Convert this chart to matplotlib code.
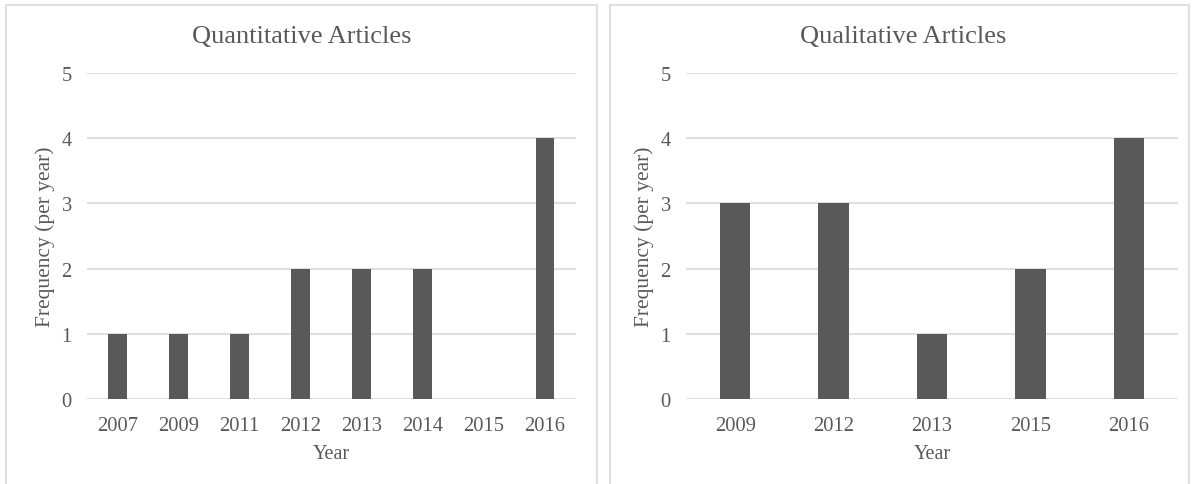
import matplotlib
matplotlib.use("Agg")
import matplotlib.pyplot as plt
from matplotlib.patches import Rectangle

quant_years = ["2007", "2009", "2011", "2012", "2013", "2014", "2015", "2016"]
quant_counts = [1, 1, 1, 2, 2, 2, 0, 4]

qual_years = ["2009", "2012", "2013", "2015", "2016"]
qual_counts = [3, 3, 1, 2, 4]

plt.rcParams["font.family"] = ["Liberation Serif", "DejaVu Serif"]

W, H = 1193, 485
fig = plt.figure(figsize=(W / 100, H / 100), dpi=100)

bar_col = "#595959"
txt_col = "#595959"
grid_col = "#d9d9d9"

# panel frames
for x0, x1 in [(6.5, 596.5), (609.5, 1188.5)]:
    fig.patches.append(Rectangle((x0 / W, -0.05), (x1 - x0) / W, 1.05 - 5.5 / H,
                                 transform=fig.transFigure, fill=False,
                                 edgecolor=grid_col, linewidth=1.2))


def draw(ax, years, counts, title, title_x):
    pos = range(len(years))
    ax.bar(pos, counts, width=0.31, color=bar_col, zorder=3)
    ax.set_xlim(-0.5, len(years) - 0.5)
    ax.set_ylim(0, 5)
    ax.set_yticks(range(6))
    ax.set_xticks(list(pos))
    ax.set_xticklabels(years)
    ax.grid(axis="y", color=grid_col, linewidth=1.2, zorder=0)
    for s in ax.spines.values():
        s.set_visible(False)
    ax.tick_params(length=0, labelsize=14.8, colors=txt_col)
    ax.tick_params(axis="y", pad=11)
    ax.tick_params(axis="x", pad=12)
    ax.set_xlabel("Year", fontsize=14.5, color=txt_col, labelpad=7)
    ax.set_ylabel("Frequency (per year)", fontsize=15.5, color=txt_col, labelpad=5)
    fig.text(title_x / W, 1 - 37 / H, title, ha="center", va="center",
             fontsize=19, color=txt_col)


y0 = 1 - 400 / H
h = (400 - 74) / H
ax1 = fig.add_axes([87 / W, y0, (575.5 - 87) / W, h])
draw(ax1, quant_years, quant_counts, "Quantitative Articles", 302)

ax2 = fig.add_axes([686 / W, y0, (1178 - 686) / W, h])
draw(ax2, qual_years, qual_counts, "Qualitative Articles", 903)

fig.savefig("out.png", dpi=100, facecolor="white")
